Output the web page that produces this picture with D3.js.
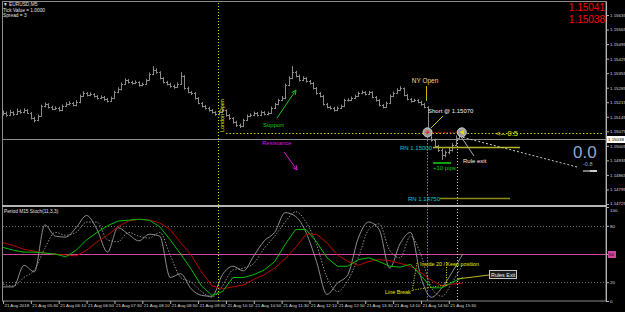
<!DOCTYPE html>
<html>
<head>
<meta charset="utf-8">
<script src="https://cdn.jsdelivr.net/npm/d3@7"></script>
<style>
  html, body { margin: 0; padding: 0; background: #000; }
  svg { display: block; font-family: "Liberation Sans", Arial, sans-serif; }
</style>
</head>
<body>
<svg id="js_chart" width="625" height="312"></svg>
<script>
// EURUSD M5, prices as points above 1.15000 (1 point = 0.00001)
const base_price = 1.15
const first_open_pts = 160
const close_pts = [
  163,153,168,158,173,168,177,163,139,129,
  149,197,206,192,182,187,177,197,206,211,
  201,216,245,259,250,254,245,235,240,230,
  221,235,264,278,303,322,312,307,312,298,
  303,322,351,370,360,331,312,303,293,288,
  303,341,283,264,259,235,211,197,187,177,
  168,158,168,177,153,139,120,105,100,129,
  149,153,163,153,168,158,163,187,206,225,
  235,298,331,360,341,322,331,317,307,283,
  259,245,206,192,187,177,187,197,225,225,
  235,245,259,264,254,264,240,225,201,192,
  211,245,259,274,283,250,230,221,225,216,
  206,192,76,33,4,-15,-39,-25,-15,9,
  43,52]
const high_pts = [
  175,170,178,172,185,180,186,182,168,145,
  156,203,214,210,198,195,193,204,215,220,
  216,225,252,268,264,262,258,250,248,245,
  236,242,270,287,310,330,326,318,320,316,
  310,328,358,389,378,364,336,318,308,300,
  310,360,345,290,270,264,240,216,202,193,
  182,172,176,184,180,158,144,126,112,135,
  156,162,170,168,175,172,170,194,212,232,
  245,304,340,389,366,348,340,336,322,312,
  288,264,250,212,198,193,194,204,232,234,
  242,252,266,272,268,270,268,245,230,206,
  218,252,266,282,292,286,255,236,232,230,
  222,212,196,82,40,10,-8,-18,-5,18,
  55,60]
const low_pts = [
  150,145,148,150,155,160,162,158,132,118,
  124,145,190,185,176,178,170,172,192,200,
  195,196,210,240,243,244,238,228,230,222,
  214,216,230,258,272,298,305,300,302,290,
  292,298,318,345,352,325,305,296,285,280,
  283,298,276,258,250,228,205,190,180,170,
  160,150,152,162,146,130,112,96,91,95,
  124,143,148,146,148,152,152,158,182,200,
  220,230,292,326,335,315,316,310,300,276,
  252,238,200,185,180,170,172,182,192,218,
  220,230,240,254,248,250,234,218,195,185,
  188,206,240,254,270,244,224,214,216,210,
  198,186,66,25,-5,-25,-63,-50,-35,-22,
  4,38]

const time_labels = ["21 Aug 2018", "21 Aug 05:30", "21 Aug 06:10", "21 Aug 06:50", "21 Aug 07:30",
  "21 Aug 08:10", "21 Aug 08:50", "21 Aug 09:30", "21 Aug 10:10", "21 Aug 10:50", "21 Aug 11:30",
  "21 Aug 12:10", "21 Aug 12:50", "21 Aug 13:30", "21 Aug 14:10", "21 Aug 14:50", "21 Aug 15:30"]
const bars_per_label = 8
const price_ticks = [1.15635, 1.15565, 1.15495, 1.15425, 1.15355, 1.15285, 1.15215, 1.15145,
  1.15075, 1.15005, 1.14935, 1.14865, 1.14795, 1.14725]
const stoch_ticks = [0, 20, 50, 80, 100]

// stochastic, one value per M15 bar (every 3rd M5 bar)
const bars_per_m15 = 3
const stoch_main = [15,15,38,31,81,69,68,78,91,76,52,78,71,64,71,69,25,29,13,6,5,28,37,32,48,64,73,94,90,73,42,7,19,28,67,84,76,35,61,73,25,4,14,31,50]
const stoch_signal = [18,16,25,33,56,73,70,73,84,84,65,63,73,69,67,73,49,25,20,10,4,16,33,35,40,56,69,84,95,84,60,25,10,22,46,76,82,54,46,69,49,14,5,20,39]
const stoch_green = [57,54,52,52,51,50,47,54,65,73,80,85,86,87,86,79,65,50,34,16,6,10,25,25,28,33,42,60,76,76,63,46,37,37,44,46,42,37,36,39,27,14,14,20,25]
const stoch_red = [62,59,55,53,51,50,49,48,54,63,70,79,85,87,86,83,76,62,49,31,16,13,15,17,23,28,35,45,57,71,71,62,49,42,38,42,44,43,40,37,30,22,16,18,19]

const bid = 1.15038, ask = 1.15041
const entry_price = 1.15070
const half_level = 1.15067
const round_numbers = [1.15000, 1.14750]
const london_bar = 62, ny_bar = 122, exit_bar = 131, exit_line_bar = 130

const svg = d3.select("#js_chart")
const plot_left = 3, plot_right = 606
const main_top = 3, main_bottom = 205, sub_top = 207, sub_bottom = 301
const axis_font = 4.4

let x = d3.scaleLinear().domain([0, close_pts.length - 1]).range([3, 459.3])
let y_price = d3.scaleLinear().domain([1.14725, 1.15635]).range([204, 15])
let y_stoch = d3.scaleLinear().domain([0, 100]).range([301, 207])
let pts = v => base_price + v / 100000

render_frame()
render_price_bars()
render_stoch()
render_axes()
render_main_notes()
render_sub_notes()
render_header()

function render_frame(){
  svg.append("rect").attr("width", 625).attr("height", 312).attr("fill", "#000")
  svg.append("rect").attr("x", 2.5).attr("y", 1.5).attr("width", plot_right - 2.5).attr("height", sub_bottom - 1.5)
    .attr("fill", "none").attr("stroke", "#8c8c8c")
  svg.append("rect").attr("x", 2).attr("y", main_bottom).attr("width", plot_right - 2).attr("height", 2).attr("fill", "#b4b4b4")
}

function render_price_bars(){
  let bars = close_pts.map((c, i) => ({
    i: i, open: i == 0 ? first_open_pts : close_pts[i-1], close: c, high: high_pts[i], low: low_pts[i]
  }))
  let g = svg.append("g").attr("stroke", "#8a8a8a").attr("stroke-width", 1)
  let bar = g.selectAll("g").data(bars).join("g")
    .attr("transform", d => `translate(${Math.round(x(d.i)) + 0.5},0)`)
  bar.append("line").attr("y1", d => y_price(pts(d.high))).attr("y2", d => y_price(pts(d.low)))
  bar.append("line").attr("x1", -1.5).attr("x2", 0)
    .attr("y1", d => Math.round(y_price(pts(d.open))) + 0.5).attr("y2", d => Math.round(y_price(pts(d.open))) + 0.5)
  bar.append("line").attr("x1", 0).attr("x2", 1.5)
    .attr("y1", d => Math.round(y_price(pts(d.close))) + 0.5).attr("y2", d => Math.round(y_price(pts(d.close))) + 0.5)

  // bid line
  svg.append("line").attr("x1", plot_left).attr("x2", plot_right)
    .attr("y1", Math.round(y_price(bid)) + 0.5).attr("y2", Math.round(y_price(bid)) + 0.5)
    .attr("stroke", "#8c8c8c")
}

function render_stoch(){
  [20, 80].forEach(v => {
    svg.append("line").attr("x1", plot_left).attr("x2", plot_right)
      .attr("y1", Math.round(y_stoch(v)) + 0.5).attr("y2", Math.round(y_stoch(v)) + 0.5)
      .attr("stroke", "#6e6e6e").attr("stroke-dasharray", "1,2")
  })
  svg.append("line").attr("x1", plot_left).attr("x2", plot_right)
    .attr("y1", Math.round(y_stoch(50)) + 0.5).attr("y2", Math.round(y_stoch(50)) + 0.5)
    .attr("stroke", "#d2459e")

  let line_smooth = d3.line().x((d, k) => x(k * bars_per_m15)).y(d => y_stoch(d)).curve(d3.curveMonotoneX)
  let line_plain = d3.line().x((d, k) => x(k * bars_per_m15)).y(d => y_stoch(d))

  svg.append("path").attr("d", line_smooth(stoch_signal)).attr("fill", "none")
    .attr("stroke", "#8c8c8c").attr("stroke-dasharray", "1.5,1.5")
  svg.append("path").attr("d", line_smooth(stoch_main)).attr("fill", "none").attr("stroke", "#9c9c9c").attr("stroke-width", 0.9)
  svg.append("path").attr("d", line_plain(stoch_red)).attr("fill", "none").attr("stroke", "#bc0000")
  svg.append("path").attr("d", line_plain(stoch_green)).attr("fill", "none").attr("stroke", "#00c000")

  svg.append("text").attr("x", 4).attr("y", 213).text("Period M15 Stoch(11,3,3)")
    .attr("font-size", 4.8).attr("fill", "#e0e0e0")
}

function render_axes(){
  let price_axis = svg.append("g").attr("transform", `translate(${plot_right},0)`)
    .call(d3.axisRight(y_price).tickValues(price_ticks).tickFormat(d3.format(".5f")).tickSize(3).tickPadding(1))
  let stoch_axis = svg.append("g").attr("transform", `translate(${plot_right},0)`)
    .call(d3.axisRight(y_stoch).tickValues(stoch_ticks).tickSize(3).tickPadding(1))
  let ticks = d3.range(time_labels.length).map(k => k * bars_per_label)
  let time_axis = svg.append("g").attr("transform", `translate(0,${sub_bottom})`)
    .call(d3.axisBottom(x).tickValues(ticks).tickFormat((d, k) => time_labels[k]).tickSize(3).tickPadding(0))
  time_axis.selectAll("text").attr("text-anchor", "start").attr("dx", 1)

  ;[price_axis, stoch_axis, time_axis].forEach(a => {
    a.select(".domain").remove()
    a.selectAll("line").attr("stroke", "#b4b4b4")
    a.selectAll("text").attr("fill", "#d8d8d8").attr("font-size", axis_font).attr("font-family", "Liberation Sans, Arial")
  })
  // keep the top stoch label clear of the lowest price label, as the terminal does
  stoch_axis.selectAll(".tick").filter(d => d == 100).select("text").attr("dy", "1.1em")
  price_axis.selectAll(".tick").filter(d => d == price_ticks[price_ticks.length - 1]).select("text").attr("dy", "0.1em")

  svg.append("line").attr("x1", plot_right + 0.5).attr("x2", plot_right + 0.5).attr("y1", 1.5).attr("y2", sub_bottom + 0.5)
    .attr("stroke", "#b4b4b4")

  // current price box
  let by = Math.round(y_price(bid))
  svg.append("rect").attr("x", plot_right + 1).attr("y", by - 3).attr("width", 19).attr("height", 7).attr("fill", "#fff")
  svg.append("text").attr("x", plot_right + 2).attr("y", by + 2).text(d3.format(".5f")(bid))
    .attr("font-size", axis_font).attr("fill", "#000")
  // 50 box
  let fy = Math.round(y_stoch(50))
  svg.append("rect").attr("x", plot_right + 2).attr("y", fy - 3).attr("width", 8).attr("height", 7).attr("fill", "#d2459e")
  svg.append("text").attr("x", plot_right + 3).attr("y", fy + 2).text("50").attr("font-size", axis_font).attr("fill", "#000")
}

function add_text(txt, tx, ty, size, color, anchor){
  return svg.append("text").attr("x", tx).attr("y", ty).text(txt)
    .attr("font-size", size).attr("fill", color).attr("text-anchor", anchor || "start")
}

function add_line(x1, y1, x2, y2, color, dash, w){
  return svg.append("line").attr("x1", x1).attr("y1", y1).attr("x2", x2).attr("y2", y2)
    .attr("stroke", color).attr("stroke-width", w || 1).attr("stroke-dasharray", dash || null)
}

function add_arrow(x1, y1, x2, y2, color){
  add_line(x1, y1, x2, y2, color)
  let a = Math.atan2(y2 - y1, x2 - x1), s = 5
  let p = [[x2, y2], [x2 - s*Math.cos(a - 0.45), y2 - s*Math.sin(a - 0.45)], [x2 - s*Math.cos(a + 0.45), y2 - s*Math.sin(a + 0.45)]]
  svg.append("path").attr("d", `M${p[0]}L${p[1]}M${p[0]}L${p[2]}`).attr("stroke", color).attr("fill", "none")
}

function render_main_notes(){
  let lx = Math.round(x(london_bar)) - 0.5
  add_line(lx, main_top, lx, sub_bottom, "#d8d800", "1,2")
  svg.append("text").attr("transform", `translate(${lx + 5},132) rotate(-90)`).text("London Open")
    .attr("font-size", 5.4).attr("fill", "#e0e000")

  add_text("Support", 263, 127, 6, "#10c810")
  add_arrow(277, 118, 296, 90, "#10c810")
  add_text("Resistance", 262, 145, 6, "#d818d8")
  add_arrow(284, 152, 297, 170, "#d818d8")

  let ny = Math.round(x(ny_bar)) - 0.5
  let ey = y_price(entry_price)
  let xx = x(exit_bar) + 2.5
  add_line(ny, ey + 2, ny, sub_bottom, "#d8d800", "1,2")
  let rx = Math.round(x(exit_line_bar)) + 1.5
  add_line(rx, y_price(bid) + 1, rx, sub_bottom, "#d0d0d0", "1,2")

  add_text("NY Open", 425, 83, 6.5, "#f0d890", "middle")
  add_line(426.5, 86, 426.5, 101, "#c8b400")
  add_text("Short @ 1.15070", 428, 113, 6, "#f0f0f0")
  add_line(431, 128, 443, 116, "#c8c800")

  let hy = Math.round(y_price(half_level)) + 0.5
  add_line(x(64), hy, plot_right - 2, hy, "#d8d800", "1.5,2")
  add_text("<--  0:5", 496, 136, 7.5, "#e8e800")

  add_line(ny + 4, ey, xx - 4, ey, "#e01010", "1.5,1.5")
  svg.append("circle").attr("cx", ny).attr("cy", ey).attr("r", 4.5).attr("fill", "#9c9c9c").attr("stroke", "#d0d0d0")
  svg.append("path").attr("d", `M${ny - 2},${ey}H${ny + 2}M${ny},${ey - 2}V${ey + 2}`).attr("stroke", "#ff2020").attr("stroke-width", 1.4)
  svg.append("circle").attr("cx", xx).attr("cy", ey).attr("r", 4.5).attr("fill", "#9c9c9c").attr("stroke", "#d0d0d0")
  svg.append("path").attr("d", `M${xx + 2},${ey - 2.5}L${xx - 2},${ey}L${xx + 2},${ey + 2.5}Z`).attr("fill", "#f0e000")

  // round numbers
  let r1 = Math.round(y_price(round_numbers[0])) + 0.5
  add_text("RN 1.15000", 400, r1 + 2, 6, "#10c8c8")
  add_line(433, r1, 520, r1, "#b4b41e", null, 1.4)
  let r2 = 198.5
  add_text("RN 1.14750", 408, r2 + 2, 6, "#10c8c8")
  add_line(440, r2, 510, r2, "#8c8c14", null, 1.6)

  add_line(433, 163, 451, 163, "#10a010", null, 2)
  add_text("+10 pips", 433, 170, 6, "#10c810")

  add_line(xx - 1, ey + 4, 474, 156, "#b0b0b0")
  add_text("Rule exit", 463, 163, 6, "#f0f0f0")
  add_line(xx + 1, ey + 5, 577, 167, "#c8c8c8", "2,2")

  add_text("0.0", 573, 157.5, 17, "#8aa8d2")
  add_text("-0.8", 583, 166, 5.5, "#8aa8d2")
  add_line(583, 171, 590, 171, "#9a9a9a", null, 1.6)
  add_line(590, 171, 597, 171, "#ffffff", null, 1.6)
}

function render_sub_notes(){
  add_line(412, 291, 417, 263, "#e0e000", "1,1.5")
  add_line(413, 290, 446, 285, "#e0e000", "1,1.5")
  add_line(446.5, 262, 446.5, 287, "#e0e000", "1,1.5")
  add_text("Inside 20 / Keep position", 420, 266, 5.4, "#e8e800")
  add_text("Line Break", 385, 294, 5.4, "#e8e800")
  add_line(457, 279, 489, 275, "#b4b41e", null, 1.2)
  svg.append("rect").attr("x", 489.5).attr("y", 270.5).attr("width", 27).attr("height", 8)
    .attr("fill", "#1a1a1a").attr("stroke", "#c8c8c8")
  add_text("Rules Exit", 491, 277, 5.4, "#f4f4f4")
}

function render_header(){
  add_text("\u25BC EURUSD,M5", 3, 6, 4.8, "#e0e0e0")
  add_text("Tick Value = 1.0000", 3, 11.5, 4.8, "#e0e0e0")
  add_text("Spread = 3", 3, 17, 4.8, "#e0e0e0")
  add_text(d3.format(".5f")(ask), plot_right - 1, 11, 10, "#ff0000", "end")
  add_text(d3.format(".5f")(bid), plot_right - 1, 23, 10, "#ff0000", "end")
}
</script>
</body>
</html>
